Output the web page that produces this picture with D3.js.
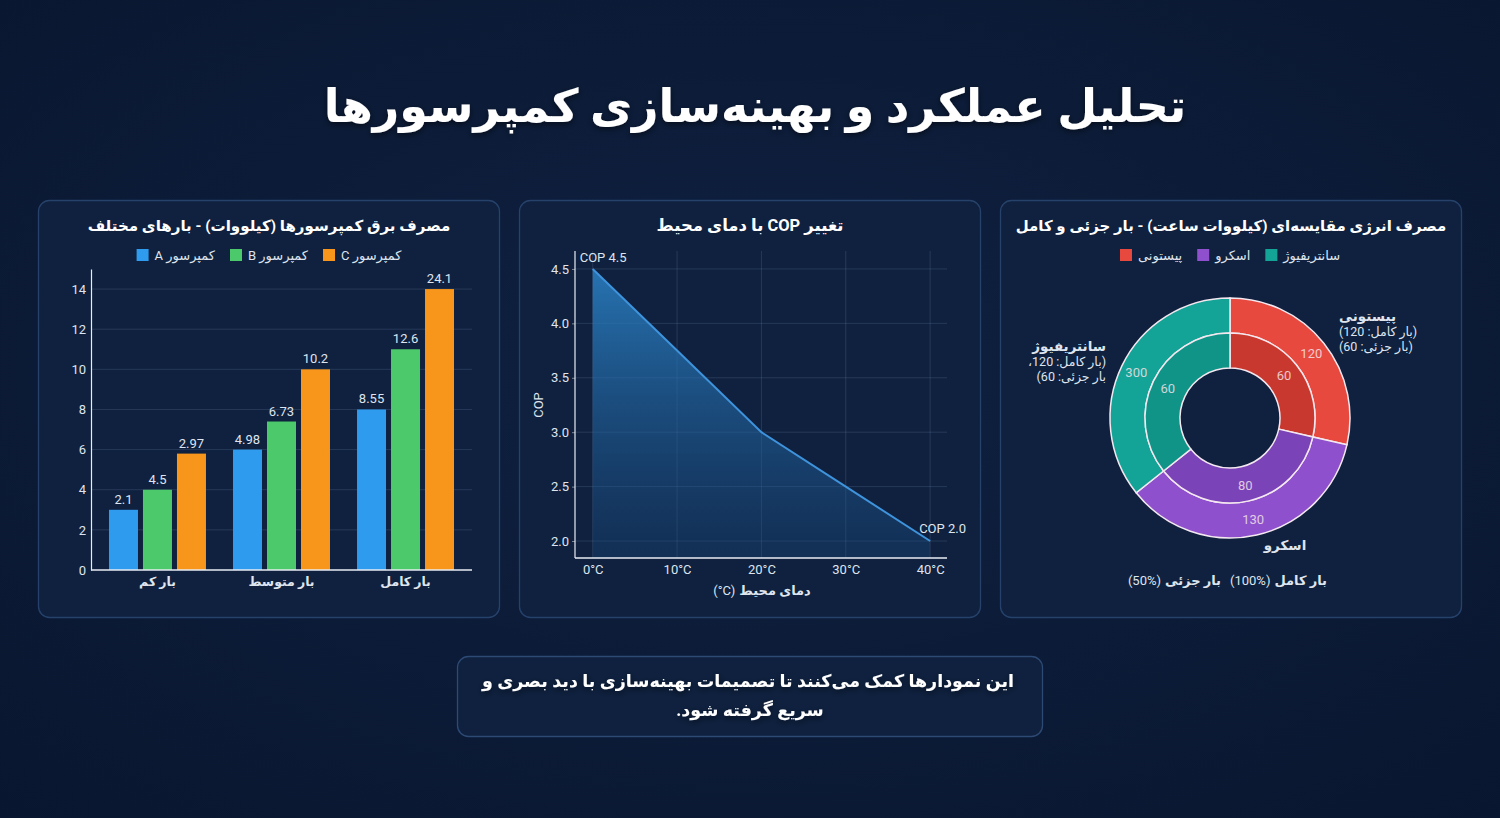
<!DOCTYPE html>
<html>
<head>
<meta charset="utf-8">
<script src="https://cdn.jsdelivr.net/npm/d3@7"></script>
<style>
html,body{margin:0;padding:0;background:#0a1731;}
svg{display:block;}
</style>
</head>
<body>
<svg id="chart" width="1500" height="818"></svg>
<script>
// ---------- DATA ----------
const mainTitle = "تحلیل عملکرد و بهینه‌سازی کمپرسورها";
const footerLines = ["این نمودارها کمک می‌کنند تا تصمیمات بهینه‌سازی با دید بصری و", "سریع گرفته شود."];

// Bar chart
const barTitle = "مصرف برق کمپرسورها (کیلووات) - بارهای مختلف";
const loadCategories = ["بار کم", "بار متوسط", "بار کامل"];
const compressorSeries = ["کمپرسور A", "کمپرسور B", "کمپرسور C"];
const barHeightsA = [3, 6, 8];
const barHeightsB = [4, 7.4, 11];
const barHeightsC = [5.8, 10, 14];
const barLabelsA = ["2.1", "4.98", "8.55"];
const barLabelsB = ["4.5", "6.73", "12.6"];
const barLabelsC = ["2.97", "10.2", "24.1"];
const barYTicks = [0, 2, 4, 6, 8, 10, 12, 14];

// Line chart
const lineTitle = "تغییر COP با دمای محیط";
const temperatures = [0, 10, 20, 30, 40];
const copValues = [4.5, 3.75, 3.0, 2.5, 2.0];
const copTicks = [2.0, 2.5, 3.0, 3.5, 4.0, 4.5];
const tempTickLabels = ["0°C", "10°C", "20°C", "30°C", "40°C"];
const lineXTitleName = "دمای محیط";
const lineXTitleUnit = "(°C)";
const lineYTitle = "COP";
const copStartLabel = "COP 4.5";
const copEndLabel = "COP 2.0";

// Donut chart
const donutTitle = "مصرف انرژی مقایسه‌ای (کیلووات ساعت) - بار جزئی و کامل";
const compressorTypes = ["پیستونی", "اسکرو", "سانتریفیوژ"];
const fullLoadArcs = [120, 150, 150];
const partialLoadArcs = [60, 75, 75];
const fullLoadLabels = ["120", "130", "300"];
const partialLoadLabels = ["60", "80", "60"];
const pistonNote = ["پیستونی", "(بار کامل: 120)", "(بار جزئی: 60)"];
const centrifugalNote = ["سانتریفیوژ", "(بار کامل: 120،", "بار جزئی: 60)"];
const screwNote = "اسکرو";
const ringLegendNames = ["بار کامل", "بار جزئی"];
const ringLegendPct = ["(100%)", "(50%)"];

// ---------- STYLE ----------
const FONT = "Roboto, 'DejaVu Sans', sans-serif";
const barColors = ["#2f9bef", "#4cc96a", "#f7961a"];
const donutOuter = ["#e8493f", "#8e50cc", "#14a497"];
const donutInner = ["#c9382f", "#7b43b8", "#109488"];
const textCol = "#dfe5ee";
const gridCol = "rgba(160,185,220,0.16)";
const axisCol = "#e8edf4";

const svg = d3.select("#chart");
const defs = svg.append("defs");

function fit(sel, target, maxSize) {
  const w = sel.node().getComputedTextLength();
  const fs = parseFloat(sel.attr("font-size"));
  sel.attr("font-size", Math.min(maxSize, fs * target / w));
  return sel;
}

// Arabic label (right part) + LTR suffix (left part), centred or right-aligned
function mixedLabel(xRight, y, name, suffix, opts) {
  const t = svg.append("text").attr("x", xRight).attr("y", y).attr("direction", "rtl").attr("text-anchor", "start")
    .attr("font-family", FONT).attr("font-size", opts.size).attr("font-weight", "bold").attr("fill", textCol).text(name);
  const w = t.node().getComputedTextLength();
  const s = svg.append("text").attr("x", xRight - w - 4).attr("y", y).attr("text-anchor", "end")
    .attr("font-family", FONT).attr("font-size", opts.size).attr("fill", textCol).text(suffix);
  if (opts.center !== undefined) {
    const total = w + 4 + s.node().getComputedTextLength();
    const shift = opts.center + total / 2 - xRight;
    t.attr("x", xRight + shift);
    s.attr("x", xRight - w - 4 + shift);
  }
}

// background
const bg = defs.append("radialGradient").attr("id", "bg").attr("cx", "50%").attr("cy", "45%").attr("r", "75%");
bg.append("stop").attr("offset", "0%").attr("stop-color", "#0f2141");
bg.append("stop").attr("offset", "100%").attr("stop-color", "#09162f");
svg.append("rect").attr("width", 1500).attr("height", 818).attr("fill", "url(#bg)");

const shadow = defs.append("filter").attr("id", "ts").attr("x", "-10%").attr("y", "-30%").attr("width", "120%").attr("height", "160%");
shadow.append("feDropShadow").attr("dx", 0).attr("dy", 2).attr("stdDeviation", 3).attr("flood-color", "#000").attr("flood-opacity", 0.55);

// title
fit(svg.append("text").attr("x", 755).attr("y", 122).attr("text-anchor", "middle")
  .attr("direction", "rtl")
  .attr("font-family", FONT).attr("font-weight", "bold").attr("font-size", 50)
  .attr("fill", "#ffffff").attr("filter", "url(#ts)").text(mainTitle), 863, 60);

// panels
const panels = [{x: 38.5, title: barTitle, tw: 363}, {x: 519.5, title: lineTitle, tw: 187}, {x: 1000.5, title: donutTitle, tw: 431}];
panels.forEach(p => {
  svg.append("rect").attr("x", p.x).attr("y", 200.5).attr("width", 461).attr("height", 417).attr("rx", 11)
    .attr("fill", "#0f213f").attr("stroke", "#26426b").attr("stroke-width", 1.3);
  fit(svg.append("text").attr("x", p.x + 230.5).attr("y", 231).attr("text-anchor", "middle")
    .attr("direction", "rtl")
    .attr("font-family", FONT).attr("font-weight", "bold").attr("font-size", 18)
    .attr("fill", "#ffffff").text(p.title), p.tw, 19);
});

// footer
svg.append("rect").attr("x", 457.5).attr("y", 656.5).attr("width", 585).attr("height", 80).attr("rx", 11)
  .attr("fill", "#0f213f").attr("stroke", "#2c4a74").attr("stroke-width", 1.3);
const f0 = svg.append("text").attr("x", 748).attr("y", 687).attr("text-anchor", "middle").attr("direction", "rtl")
  .attr("font-family", FONT).attr("font-weight", "bold").attr("font-size", 18)
  .attr("fill", "#ffffff").attr("filter", "url(#ts)").text(footerLines[0]);
fit(f0, 532, 20);
svg.append("text").attr("x", 750).attr("y", 716).attr("text-anchor", "middle").attr("direction", "rtl")
  .attr("font-family", FONT).attr("font-weight", "bold").attr("font-size", f0.attr("font-size"))
  .attr("fill", "#ffffff").attr("filter", "url(#ts)").text(footerLines[1]);

// legend helper: square then RTL text
function legend(cx, y, labels, colors) {
  const g = svg.append("g");
  const items = labels.map((l, i) => {
    const it = g.append("g");
    it.append("rect").attr("x", 0).attr("y", y - 11).attr("width", 12).attr("height", 12).attr("fill", colors[i]);
    const t = it.append("text").attr("x", 18).attr("y", y).attr("font-family", FONT)
      .attr("direction", "rtl").attr("text-anchor", "end")
      .attr("font-size", 13).attr("fill", textCol).text(l);
    return {it, w: 18 + t.node().getComputedTextLength()};
  });
  const gap = 15;
  const total = d3.sum(items, d => d.w) + gap * (items.length - 1);
  let x = cx - total / 2;
  items.forEach(d => { d.it.attr("transform", `translate(${x},0)`); x += d.w + gap; });
}

// ---------- BAR CHART ----------
{
  const x0 = d3.scaleBand().domain(loadCategories).range([91, 472]).paddingInner(0.218).paddingOuter(0.145);
  const x1 = d3.scaleBand().domain(compressorSeries).range([0, x0.bandwidth()]).paddingInner(0.147);
  const y = d3.scaleLinear().domain([0, 15]).range([570, 269]);
  const g = svg.append("g");

  g.append("g").selectAll("line").data(barYTicks.slice(1)).join("line")
    .attr("x1", 91).attr("x2", 472).attr("y1", d => y(d)).attr("y2", d => y(d))
    .attr("stroke", gridCol).attr("stroke-width", 1);

  const heights = [barHeightsA, barHeightsB, barHeightsC];
  const labels = [barLabelsA, barLabelsB, barLabelsC];
  const rows = [];
  loadCategories.forEach((c, ci) => compressorSeries.forEach((s, si) => rows.push({c, s, v: heights[si][ci], l: labels[si][ci], si})));

  g.append("g").selectAll("rect").data(rows).join("rect")
    .attr("x", d => x0(d.c) + x1(d.s)).attr("width", x1.bandwidth())
    .attr("y", d => y(d.v)).attr("height", d => y(0) - y(d.v))
    .attr("fill", d => barColors[d.si]);

  g.append("g").selectAll("text").data(rows).join("text")
    .attr("x", d => x0(d.c) + x1(d.s) + x1.bandwidth() / 2).attr("y", d => y(d.v) - 6)
    .attr("text-anchor", "middle").attr("font-family", FONT).attr("font-size", 13)
    .attr("fill", textCol).text(d => d.l);

  const ya = g.append("g").attr("transform", "translate(91,0)")
    .call(d3.axisLeft(y).tickValues(barYTicks).tickSize(0).tickPadding(5).tickFormat(d3.format("d")));
  ya.select(".domain").attr("stroke", axisCol).attr("stroke-width", 1.2);
  ya.selectAll("text").attr("font-family", FONT).attr("font-size", 13).attr("fill", textCol);

  const xa = g.append("g").attr("transform", "translate(0,570)")
    .call(d3.axisBottom(x0).tickSize(0).tickPadding(7));
  xa.select(".domain").attr("d", "M91,0H472").attr("stroke", axisCol).attr("stroke-width", 1.5);
  xa.selectAll("text").attr("font-family", FONT).attr("font-size", 12.5).attr("font-weight", "bold").attr("fill", textCol);

  legend(269, 260, compressorSeries, barColors);
}

// ---------- LINE CHART ----------
{
  const x = d3.scaleLinear().domain([-2.1, 42]).range([575, 947]);
  const y = d3.scaleLinear().domain([1.844, 4.665]).range([558, 251]);
  const g = svg.append("g");

  g.append("g").selectAll("line").data(copTicks).join("line")
    .attr("x1", 575).attr("x2", 947).attr("y1", d => y(d)).attr("y2", d => y(d))
    .attr("stroke", gridCol);
  g.append("g").selectAll("line").data(temperatures).join("line")
    .attr("y1", 251).attr("y2", 558).attr("x1", d => x(d)).attr("x2", d => x(d))
    .attr("stroke", gridCol);

  const grad = defs.append("linearGradient").attr("id", "areaGrad").attr("x1", 0).attr("y1", 0).attr("x2", 0).attr("y2", 1);
  grad.append("stop").attr("offset", "0%").attr("stop-color", "#2b82c6").attr("stop-opacity", 0.85);
  grad.append("stop").attr("offset", "100%").attr("stop-color", "#1a4f86").attr("stop-opacity", 0.3);

  const pts = temperatures.map((t, i) => [t, copValues[i]]);
  g.append("path").datum(pts)
    .attr("d", d3.area().x(d => x(d[0])).y0(558).y1(d => y(d[1])))
    .attr("fill", "url(#areaGrad)");
  g.append("path").datum(pts)
    .attr("d", d3.line().x(d => x(d[0])).y(d => y(d[1])))
    .attr("fill", "none").attr("stroke", "#3e93dc").attr("stroke-width", 2);

  const ya = g.append("g").attr("transform", "translate(575,0)")
    .call(d3.axisLeft(y).tickValues(copTicks).tickSize(3).tickPadding(3).tickFormat(d3.format(".1f")));
  ya.select(".domain").attr("d", "M0,251V558").attr("stroke", axisCol).attr("stroke-width", 1.2);
  ya.selectAll(".tick line").attr("stroke", axisCol).attr("stroke-opacity", 0.5);
  ya.selectAll("text").attr("font-family", FONT).attr("font-size", 13).attr("fill", textCol);

  const xa = g.append("g").attr("transform", "translate(0,558)")
    .call(d3.axisBottom(x).tickValues(temperatures).tickSize(0).tickPadding(7).tickFormat((d, i) => tempTickLabels[i]));
  xa.select(".domain").attr("d", "M575,0H947").attr("stroke", axisCol).attr("stroke-width", 1.5);
  xa.selectAll("text").attr("font-family", FONT).attr("font-size", 13).attr("fill", textCol);

  mixedLabel(808, 595, lineXTitleName, lineXTitleUnit, {size: 13, center: 762});
  g.append("text").attr("transform", "translate(543,405) rotate(-90)").attr("text-anchor", "middle")
    .attr("font-family", FONT).attr("font-size", 13).attr("fill", textCol).text(lineYTitle);

  g.append("text").attr("x", x(temperatures[0]) - 13).attr("y", y(copValues[0]) - 7)
    .attr("font-family", FONT).attr("font-size", 13).attr("fill", textCol).text(copStartLabel);
  g.append("text").attr("x", x(temperatures[4]) - 11).attr("y", y(copValues[4]) - 8)
    .attr("font-family", FONT).attr("font-size", 13).attr("fill", textCol).text(copEndLabel);
}

// ---------- DONUT CHART ----------
{
  const cx = 1230, cy = 418;
  const g = svg.append("g").attr("transform", `translate(${cx},${cy})`);
  const pie = d3.pie().sort(null).startAngle(0).endAngle(2 * Math.PI);
  const outerArc = d3.arc().innerRadius(85).outerRadius(120);
  const innerArc = d3.arc().innerRadius(50).outerRadius(85);
  const outerPie = pie(fullLoadArcs);
  const innerPie = pie(partialLoadArcs);

  g.selectAll("path.o").data(outerPie).join("path").attr("class", "o")
    .attr("d", outerArc).attr("fill", (d, i) => donutOuter[i])
    .attr("stroke", "#f4e8f0").attr("stroke-width", 1.5);
  g.selectAll("path.i").data(innerPie).join("path").attr("class", "i")
    .attr("d", innerArc).attr("fill", (d, i) => donutInner[i])
    .attr("stroke", "#f4e8f0").attr("stroke-width", 1.5);

  const oLab = d3.arc().innerRadius(104).outerRadius(104);
  const iLab = d3.arc().innerRadius(69).outerRadius(69);
  g.selectAll("text.o").data(outerPie).join("text").attr("class", "o")
    .attr("transform", d => `translate(${oLab.centroid(d)})`).attr("dy", "0.35em")
    .attr("text-anchor", "middle").attr("font-family", FONT).attr("font-size", 13)
    .attr("fill", "#f3e3e8").attr("fill-opacity", 0.85).text((d, i) => fullLoadLabels[i]);
  g.selectAll("text.i").data(innerPie).join("text").attr("class", "i")
    .attr("transform", d => `translate(${iLab.centroid(d)})`).attr("dy", "0.35em")
    .attr("text-anchor", "middle").attr("font-family", FONT).attr("font-size", 13)
    .attr("fill", "#f3e3e8").attr("fill-opacity", 0.85).text((d, i) => partialLoadLabels[i]);

  // outside notes
  pistonNote.forEach((t, i) => {
    svg.append("text").attr("x", 1339).attr("y", 321 + i * 15).attr("direction", "rtl").attr("text-anchor", "end")
      .attr("font-family", FONT).attr("font-size", i === 0 ? 13.5 : 12.5).attr("font-weight", i === 0 ? "bold" : "normal")
      .attr("fill", textCol).text(t);
  });
  centrifugalNote.forEach((t, i) => {
    svg.append("text").attr("x", 1106).attr("y", 351 + i * 15).attr("direction", "rtl").attr("text-anchor", "start")
      .attr("font-family", FONT).attr("font-size", i === 0 ? 13.5 : 12.5).attr("font-weight", i === 0 ? "bold" : "normal")
      .attr("fill", textCol).text(t);
  });
  svg.append("text").attr("x", 1285).attr("y", 550).attr("text-anchor", "middle")
    .attr("font-family", FONT).attr("font-size", 13.5).attr("font-weight", "bold").attr("fill", textCol).text(screwNote);

  // ring legend: Arabic name (right) + percentage (left)
  const ringRight = [1327, 1221];
  ringLegendNames.forEach((n, i) => mixedLabel(ringRight[i], 585, n, ringLegendPct[i], {size: 13}));

  legend(1230, 260, compressorTypes, donutOuter);
}
</script>
</body>
</html>
